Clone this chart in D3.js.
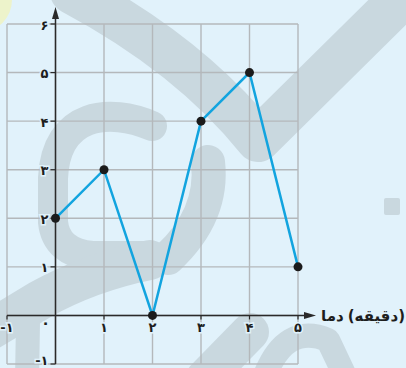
<!DOCTYPE html>
<html>
<head>
<meta charset="utf-8">
<script src="https://cdn.jsdelivr.net/npm/d3@7"></script>
<style>
  body { margin: 0; background: #e1f2fb; }
  svg { display: block; }
</style>
</head>
<body>
<svg id="chart"></svg>
<script>
// chart values
const xValues = [0, 1, 2, 3, 4, 5];
const yValues = [2, 3, 0, 4, 5, 1];
const xTicks = [-1, 0, 1, 2, 3, 4, 5];
const yTicks = [-1, 1, 2, 3, 4, 5, 6];
const xTitle = ['دما', '(دقیقه)'];

const width = 406, height = 368;
const faDigits = '۰۱۲۳۴۵۶۷۸۹';
const toFa = d => String(d).replace(/\d/g, c => faDigits[+c]);

const svg = d3.select('#chart')
    .attr('width', width)
    .attr('height', height);

svg.append('rect')
    .attr('width', width)
    .attr('height', height)
    .attr('fill', '#e1f2fb');

// faded logo in the background
svg.append('circle')
    .attr('cx', -20).attr('cy', 0).attr('r', 32)
    .attr('fill', '#edf3cb');

const wm = svg.append('g').attr('opacity', 0.24);
const wmStroke = [
  {d: 'M 72,-8 Q 190,55 258,140 L 430,-30', w: 44},
  {d: 'M 152,126 C 110,108 56,112 53,178 L 53,222 Q 56,252 92,256 L 148,256', w: 30},
  {d: 'M 150,260 Q 90,272 40,300 L -10,330', w: 40},
  {d: 'M 28,322 L 27,380', w: 24},
  {d: 'M 208,162 Q 214,215 168,258', w: 34},
  {d: 'M 205,378 L 250,332', w: 38},
  {d: 'M 264,378 Q 285,322 328,340 L 346,378', w: 24}
];
wm.selectAll('path')
  .data(wmStroke)
  .join('path')
    .attr('d', d => d.d)
    .attr('fill', 'none')
    .attr('stroke', '#7f878a')
    .attr('stroke-width', d => d.w)
    .attr('stroke-linecap', 'round')
    .attr('stroke-linejoin', 'round');
wm.append('rect')
    .attr('x', 384).attr('y', 198).attr('width', 16).attr('height', 17).attr('rx', 2)
    .attr('fill', '#7f878a');

// scales
const x = d3.scaleLinear().domain([-1, 5]).range([7, 298]);
const y = d3.scaleLinear().domain([-1, 6]).range([364, 24]);

// grid
const grid = svg.append('g')
    .attr('stroke', '#b4b8bb')
    .attr('stroke-width', 1.4);
grid.selectAll('.gx')
  .data(xTicks)
  .join('line')
    .attr('x1', d => x(d)).attr('x2', d => x(d))
    .attr('y1', y(-1)).attr('y2', y(6));
grid.selectAll('.gy')
  .data(d3.range(-1, 7))
  .join('line')
    .attr('x1', x(-1)).attr('x2', x(5))
    .attr('y1', d => y(d)).attr('y2', d => y(d));

// axes
const axisColor = '#2a2a2a';
svg.append('line')
    .attr('x1', x(0)).attr('x2', x(0))
    .attr('y1', y(-1)).attr('y2', 14)
    .attr('stroke', axisColor).attr('stroke-width', 1.5);
svg.append('path')
    .attr('d', `M${x(0)},7 L${x(0) - 3.5},19 L${x(0) + 3.5},19 Z`)
    .attr('fill', axisColor);
svg.append('line')
    .attr('x1', x(-1)).attr('x2', 310)
    .attr('y1', y(0)).attr('y2', y(0))
    .attr('stroke', axisColor).attr('stroke-width', 1.5);
svg.append('path')
    .attr('d', `M316,${y(0)} L304,${y(0) - 3.5} L304,${y(0) + 3.5} Z`)
    .attr('fill', axisColor);

// tick marks
svg.append('g').selectAll('line')
  .data(yTicks)
  .join('line')
    .attr('x1', x(0) - 5).attr('x2', x(0))
    .attr('y1', d => y(d)).attr('y2', d => y(d))
    .attr('stroke', axisColor).attr('stroke-width', 1.2);
svg.append('g').selectAll('line')
  .data(xTicks.filter(d => d !== 0))
  .join('line')
    .attr('x1', d => x(d)).attr('x2', d => x(d))
    .attr('y1', y(0)).attr('y2', y(0) + 4)
    .attr('stroke', axisColor).attr('stroke-width', 1.2);

// tick labels
const labelFont = '"DejaVu Sans", sans-serif';
const haloText = sel => sel
    .attr('font-family', labelFont)
    .attr('font-weight', 'bold')
    .attr('font-size', 13)
    .attr('fill', '#1e1e1e')
    .attr('stroke', '#e1f2fb')
    .attr('stroke-width', 3)
    .attr('paint-order', 'stroke')
    .attr('dominant-baseline', 'central');

svg.append('g').selectAll('text')
  .data(yTicks)
  .join('text')
    .call(haloText)
    .attr('x', x(0) - 7)
    .attr('y', d => d === -1 ? y(d) - 4 : y(d) + 1)
    .attr('text-anchor', 'end')
    .text(d => toFa(d));

svg.append('g').selectAll('text')
  .data(xTicks)
  .join('text')
    .call(haloText)
    .attr('x', d => d === 0 ? x(0) - 10 : x(d))
    .attr('y', d => d === 0 ? y(0) + 8 : y(0) + 12)
    .attr('text-anchor', 'middle')
    .attr('font-size', d => d === 0 ? 15 : 13)
    .text(d => toFa(d));

// data line
const line = d3.line()
    .x((d, i) => x(xValues[i]))
    .y(d => y(d));

svg.append('path')
    .datum(yValues)
    .attr('d', line)
    .attr('fill', 'none')
    .attr('stroke', '#12a4df')
    .attr('stroke-width', 2.5);

svg.append('g').selectAll('circle')
  .data(yValues)
  .join('circle')
    .attr('cx', (d, i) => x(xValues[i]))
    .attr('cy', d => y(d))
    .attr('r', 4.5)
    .attr('fill', '#1b1b1b');

// axis title: word on the left, bracketed unit on the right
const title = svg.append('g')
    .attr('font-family', labelFont)
    .attr('font-weight', 'bold')
    .attr('font-size', 15)
    .attr('fill', '#1e1e1e');
const unit = title.append('text')
    .attr('x', 405)
    .attr('y', y(0) + 1)
    .attr('text-anchor', 'end')
    .attr('dominant-baseline', 'central')
    .text(xTitle[1]);
const unitWidth = unit.node().getComputedTextLength();
title.append('text')
    .attr('x', 405 - unitWidth - 4)
    .attr('y', y(0) + 1)
    .attr('text-anchor', 'end')
    .attr('dominant-baseline', 'central')
    .text(xTitle[0]);
</script>
</body>
</html>
